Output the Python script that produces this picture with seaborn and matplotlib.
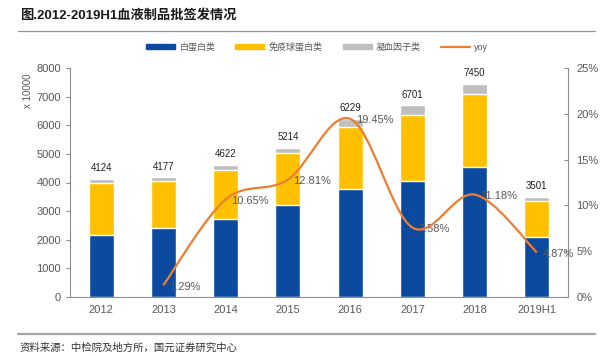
import matplotlib
matplotlib.use("Agg")
import matplotlib.pyplot as plt
import seaborn as sns
import numpy as np
import pandas as pd
from matplotlib.path import Path
from matplotlib.patches import PathPatch, Patch
from matplotlib.lines import Line2D
from matplotlib.ticker import FuncFormatter

# data
years = ["2012", "2013", "2014", "2015", "2016", "2017", "2018", "2019H1"]
albumin = [2150, 2410, 2740, 3220, 3790, 4060, 4550, 2110]      # 白蛋白类
immuno = [1850, 1650, 1695, 1800, 2150, 2300, 2550, 1240]       # 免疫球蛋白类
totals = [4124, 4177, 4622, 5214, 6229, 6701, 7450, 3501]       # 合计
yoy_years = ["2013", "2014", "2015", "2016", "2017", "2018", "2019H1"]
yoy = [1.29, 10.65, 12.81, 19.45, 7.58, 11.18, 4.87]

sns.set_style("white")
plt.rcParams['font.family'] = ['Liberation Sans', 'Noto Sans CJK SC', 'DejaVu Sans']

c_blue = "#0B4A9E"
c_yellow = "#FFC000"
c_gray = "#BFBFBF"
c_orange = "#ED7D31"
c_text = "#595959"

df = pd.DataFrame({"year": years,
                   "blue": albumin,
                   "yellow": np.array(albumin) + np.array(immuno),
                   "total": totals})

fig = plt.figure(figsize=(6.1, 3.56), dpi=100)
ax = fig.add_axes([70/610, 1-297/356, (568-70)/610, (297-68)/356])

# stacked bars: draw the tallest first
sns.barplot(data=df, x="year", y="total", color=c_gray, width=0.4, ax=ax, saturation=1)
sns.barplot(data=df, x="year", y="yellow", color=c_yellow, width=0.4, ax=ax, saturation=1)
sns.barplot(data=df, x="year", y="blue", color=c_blue, width=0.4, ax=ax, saturation=1)

for i, t in enumerate(totals):
    ax.annotate(str(t), (i, t), xytext=(0, 4), textcoords="offset points",
                ha="center", va="bottom", fontsize=7, color="#222222")

ax.set_ylim(0, 8000)
ax.set_xlim(-0.5, len(years) - 0.5)
ax.set_yticks(range(0, 8001, 1000))
ax.set_xlabel("")
ax.set_ylabel("x 10000", fontsize=7, color=c_text)
ax.yaxis.set_label_coords(-0.075, 0.9)
ax.tick_params(axis="both", labelsize=8, colors=c_text, length=3, width=0.8)
ax.tick_params(axis="x", length=0, pad=6)
ax.set_xticks(np.arange(-0.5, len(years), 1), minor=True)
ax.tick_params(axis="x", which="minor", length=3, color="#8C8C8C", direction="out")
for s in ["top", "right"]:
    ax.spines[s].set_visible(False)
for s in ["left", "bottom"]:
    ax.spines[s].set_color("#8C8C8C")
    ax.spines[s].set_linewidth(0.8)
ax.tick_params(axis="y", color="#8C8C8C")

# yoy line on secondary axis, smoothed like the spreadsheet line
ax2 = ax.twinx()
xs = np.array([years.index(y) for y in yoy_years], dtype=float)
ys = np.array(yoy, dtype=float)
pts = np.column_stack([xs, ys])
verts = [tuple(pts[0])]
codes = [Path.MOVETO]
n = len(pts)
for k in range(n - 1):
    p0 = pts[k - 1] if k > 0 else pts[k]
    p1 = pts[k]
    p2 = pts[k + 1]
    p3 = pts[k + 2] if k + 2 < n else pts[k + 1]
    c1 = p1 + (p2 - p0) / 6.0
    c2 = p2 - (p3 - p1) / 6.0
    verts += [tuple(c1), tuple(c2), tuple(p2)]
    codes += [Path.CURVE4] * 3
ax2.add_patch(PathPatch(Path(verts, codes), facecolor="none",
                        edgecolor=c_orange, lw=1.6, zorder=5))
for x, v in zip(xs, ys):
    ax2.annotate(f"{v:.2f}%", (x, v), xytext=(4, -1), textcoords="offset points",
                 ha="left", va="center", fontsize=8, color=c_text)
ax2.set_ylim(0, 25)
ax2.set_yticks(range(0, 26, 5))
ax2.yaxis.set_major_formatter(FuncFormatter(lambda v, p: f"{v:.0f}%"))
ax2.tick_params(axis="y", labelsize=8, colors=c_text, length=3, direction="in",
                color="#8C8C8C", pad=6)
for s in ["top", "left", "bottom"]:
    ax2.spines[s].set_visible(False)
ax2.spines["right"].set_color("#8C8C8C")
ax2.spines["right"].set_linewidth(0.8)
ax2.grid(False)
ax.grid(False)

# legend
handles = [Patch(color=c_blue, label="白蛋白类"),
           Patch(color=c_yellow, label="免疫球蛋白类"),
           Patch(color=c_gray, label="凝血因子类"),
           Line2D([0], [0], color=c_orange, lw=1.6, label="yoy")]
fig.legend(handles=handles, loc="center", bbox_to_anchor=(0.52, 1-47/356), ncol=4,
           frameon=False, fontsize=6.5, handlelength=3.2, handleheight=0.35,
           columnspacing=2.2, handletextpad=0.5, labelcolor=c_text)

# title, rules and source
fig.text(20/610, 1-16/356, "图.2012-2019H1血液制品批签发情况", fontsize=9.5,
         fontweight="bold", color="#1a1a1a", va="center", ha="left")
fig.add_artist(Line2D([18/610, 595/610], [1-31/356, 1-31/356], color="#7F96B2", lw=0.9))
fig.add_artist(Line2D([18/610, 595/610], [1-334/356, 1-334/356], color="#A6A6A6", lw=1.6))
fig.text(20/610, 1-348/356, "资料来源：中检院及地方所，国元证券研究中心", fontsize=7.5,
         color="#333333", va="center", ha="left")

fig.savefig("out.png", dpi=100)
